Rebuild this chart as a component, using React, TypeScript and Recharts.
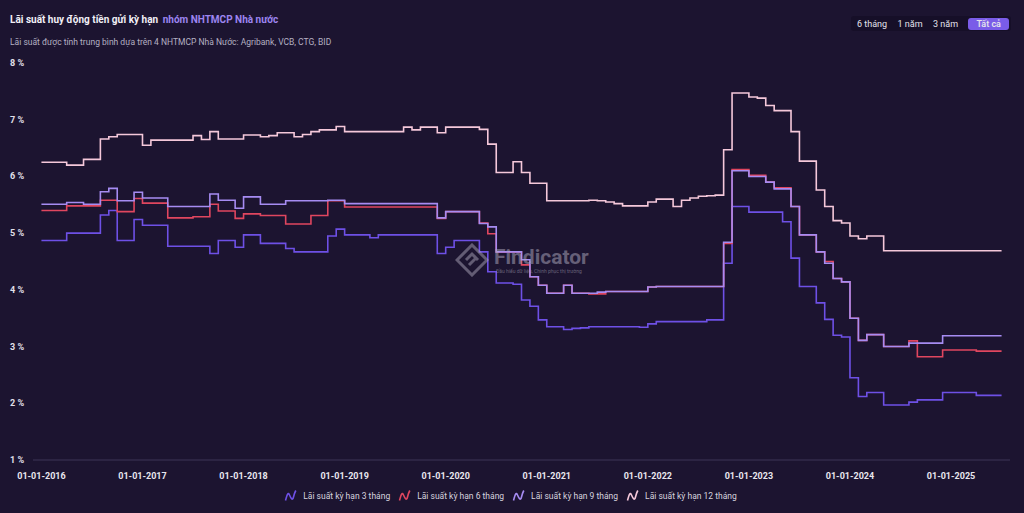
import React from 'react';
import { LineChart, Line, XAxis, YAxis } from 'recharts';

// monthly values, Jan 2016 .. Jul 2025 (index = months since 01-01-2016)
const rate3m = [
  4.87, 4.87, 4.87, 5.0, 5.0, 5.0, 5.0, 5.32, 5.4, 4.87, 4.87, 5.24,
  5.14, 5.14, 5.14, 4.77, 4.77, 4.77, 4.77, 4.77, 4.64, 4.87, 4.87, 4.75,
  4.97, 4.97, 4.82, 4.82, 4.82, 4.73, 4.67, 4.67, 4.67, 4.67, 4.95, 5.07,
  4.97, 4.97, 4.97, 4.92, 4.97, 4.97, 4.97, 4.97, 4.97, 4.97, 4.97, 4.64,
  4.75, 4.87, 4.87, 4.87, 4.67, 4.32, 4.12, 4.12, 4.1, 3.82, 3.71, 3.47,
  3.35, 3.35, 3.3, 3.32, 3.33, 3.35, 3.35, 3.35, 3.35, 3.35, 3.35, 3.34,
  3.4, 3.44, 3.44, 3.44, 3.44, 3.44, 3.44, 3.47, 3.47, 4.47, 5.47, 5.47,
  5.37, 5.37, 5.37, 5.37, 5.2, 4.56, 4.06, 4.06, 3.77, 3.48, 3.2, 3.17,
  2.45, 2.12, 2.19, 2.19, 1.97, 1.97, 1.97, 2.02, 2.06, 2.06, 2.06, 2.19,
  2.19, 2.19, 2.19, 2.14, 2.14, 2.14, 2.14,
];

const rate6m = [
  5.4, 5.4, 5.4, 5.48, 5.48, 5.48, 5.48, 5.58, 5.58, 5.38, 5.38, 5.61,
  5.53, 5.53, 5.53, 5.27, 5.27, 5.27, 5.29, 5.29, 5.51, 5.39, 5.39, 5.26,
  5.34, 5.34, 5.31, 5.31, 5.31, 5.16, 5.16, 5.16, 5.31, 5.31, 5.57, 5.57,
  5.46, 5.46, 5.46, 5.46, 5.46, 5.46, 5.46, 5.46, 5.46, 5.46, 5.46, 5.26,
  5.38, 5.38, 5.38, 5.38, 5.18, 4.99, 4.67, 4.67, 4.67, 4.44, 4.23, 4.08,
  3.94, 3.94, 4.08, 3.94, 3.94, 3.93, 3.93, 3.97, 3.97, 3.97, 3.97, 3.97,
  4.05, 4.06, 4.06, 4.06, 4.06, 4.06, 4.06, 4.06, 4.06, 4.82, 6.12, 6.12,
  6.02, 6.02, 5.9, 5.8, 5.8, 5.47, 4.97, 4.97, 4.67, 4.5, 4.2, 4.14,
  3.5, 3.11, 3.21, 3.21, 3.0, 3.0, 3.0, 3.1, 2.82, 2.82, 2.82, 2.94,
  2.94, 2.94, 2.94, 2.92, 2.92, 2.92, 2.92,
];

const rate9m = [
  5.51, 5.51, 5.51, 5.54, 5.54, 5.51, 5.51, 5.73, 5.79, 5.57, 5.57, 5.72,
  5.62, 5.62, 5.62, 5.47, 5.47, 5.47, 5.47, 5.47, 5.69, 5.58, 5.58, 5.44,
  5.64, 5.64, 5.51, 5.51, 5.51, 5.57, 5.57, 5.57, 5.57, 5.57, 5.58, 5.58,
  5.52, 5.52, 5.52, 5.52, 5.52, 5.52, 5.52, 5.52, 5.52, 5.52, 5.52, 5.27,
  5.38, 5.38, 5.38, 5.38, 5.17, 5.11, 4.67, 4.67, 4.67, 4.53, 4.23, 4.08,
  3.94, 3.94, 4.08, 3.94, 3.94, 3.94, 3.96, 3.97, 3.97, 3.97, 3.97, 3.97,
  4.05, 4.06, 4.06, 4.06, 4.06, 4.06, 4.06, 4.06, 4.06, 4.84, 6.1, 6.1,
  6.0, 6.0, 5.9, 5.78, 5.78, 5.47, 4.97, 4.97, 4.67, 4.47, 4.2, 4.14,
  3.5, 3.11, 3.21, 3.21, 3.0, 3.0, 3.0, 3.06, 3.06, 3.06, 3.06, 3.19,
  3.19, 3.19, 3.19, 3.19, 3.19, 3.19, 3.19,
];

const rate12m = [
  6.25, 6.25, 6.25, 6.2, 6.2, 6.3, 6.3, 6.66, 6.7, 6.74, 6.74, 6.74,
  6.55, 6.64, 6.64, 6.64, 6.64, 6.64, 6.72, 6.65, 6.79, 6.66, 6.66, 6.66,
  6.73, 6.73, 6.7, 6.72, 6.77, 6.77, 6.7, 6.74, 6.79, 6.82, 6.82, 6.88,
  6.79, 6.79, 6.79, 6.79, 6.79, 6.79, 6.79, 6.87, 6.82, 6.87, 6.87, 6.77,
  6.87, 6.87, 6.87, 6.87, 6.83, 6.57, 6.07, 6.07, 6.26, 6.07, 5.88, 5.88,
  5.57, 5.57, 5.57, 5.57, 5.57, 5.58, 5.57, 5.55, 5.52, 5.48, 5.48, 5.48,
  5.55, 5.6, 5.6, 5.47, 5.58, 5.62, 5.65, 5.66, 5.67, 6.47, 7.47, 7.47,
  7.4, 7.38, 7.25, 7.16, 7.16, 6.79, 6.27, 6.27, 5.76, 5.47, 5.22, 5.18,
  4.95, 4.9, 4.95, 4.95, 4.69, 4.69, 4.69, 4.69, 4.69, 4.69, 4.69, 4.69,
  4.69, 4.69, 4.69, 4.69, 4.69, 4.69, 4.69,
];

const yearTicks = [0, 12, 24, 36, 48, 60, 72, 84, 96, 108];
const yTicks = [1, 2, 3, 4, 5, 6, 7, 8];
const rangeButtons = ['6 tháng', '1 năm', '3 năm', 'Tất cả'];

const series = [
  { key: 'r3', name: 'Lãi suất kỳ hạn 3 tháng', color: '#6e50e6' },
  { key: 'r6', name: 'Lãi suất kỳ hạn 6 tháng', color: '#e0465f' },
  { key: 'r9', name: 'Lãi suất kỳ hạn 9 tháng', color: '#a68cf2' },
  { key: 'r12', name: 'Lãi suất kỳ hạn 12 tháng', color: '#f5c8da' },
];

const data = rate3m.map((v, i) => ({
  m: i,
  r3: v,
  r6: rate6m[i],
  r9: rate9m[i],
  r12: rate12m[i],
}));

const FONT = 'Roboto, "Noto Sans", sans-serif';
const BG = '#1c1430';

const YTick = ({ y, payload }: any) => (
  <text x={10} y={y} dy={3} fill="#e2e0ea" fontSize={9} fontWeight={700} fontFamily={FONT}>
    {payload.value} %
  </text>
);

const LegendIcon = ({ color }: { color: string }) => (
  <svg width={13} height={13} viewBox="0 0 13 13">
    <path d="M1.5 11.5 C3 6 4 2.5 5.5 6 S8.5 12 9.5 8 S11 3 11.8 1.5" fill="none" stroke={color} strokeWidth={1.6} />
  </svg>
);

const App = () => {
  return (
    <div style={{ position: 'absolute', left: 0, top: 0, width: 1024, height: 513, background: BG, fontFamily: FONT, overflow: 'hidden' }}>
      <LineChart width={1024} height={513} data={data} margin={{ top: 63, right: 14, bottom: 0, left: 0 }}>
        <XAxis
          dataKey="m"
          type="number"
          domain={[-1, 115]}
          ticks={yearTicks}
          interval={0}
          tickFormatter={(m: number) => `01-01-${2016 + m / 12}`}
          axisLine={{ stroke: '#3c3556' }}
          tickLine={false}
          tickMargin={7}
          height={53}
          tick={{ fill: '#e8e6ee', fontSize: 9, fontWeight: 700, fontFamily: FONT }}
        />
        <YAxis type="number" domain={[1, 8]} ticks={yTicks} width={33} axisLine={false} tickLine={false} tick={<YTick />} />
        {series.map((s) => (
          <Line
            key={s.key}
            type="stepAfter"
            dataKey={s.key}
            name={s.name}
            stroke={s.color}
            strokeWidth={1.6}
            dot={false}
            activeDot={false}
            isAnimationActive={false}
          />
        ))}
      </LineChart>

      {/* header */}
      <div style={{ position: 'absolute', left: 10, top: 14, fontSize: 10, fontWeight: 700, color: '#f2f0f7', whiteSpace: 'nowrap' }}>
        Lãi suất huy động tiền gửi kỳ hạn <span style={{ color: '#9d85f0', marginLeft: 2 }}>nhóm NHTMCP Nhà nước</span>
      </div>
      <div style={{ position: 'absolute', left: 10, top: 37, fontSize: 8.5, color: '#b4b0c2', whiteSpace: 'nowrap' }}>
        Lãi suất được tính trung bình dựa trên 4 NHTMCP Nhà Nước: Agribank, VCB, CTG, BID
      </div>

      {/* range buttons */}
      <div style={{ position: 'absolute', left: 851, top: 16, width: 160, height: 15, background: '#160f28', borderRadius: 3, display: 'flex', alignItems: 'center', justifyContent: 'space-between', padding: '0 2px 0 6px', boxSizing: 'border-box' }}>
        {rangeButtons.map((b, i) => {
          const active = i === rangeButtons.length - 1;
          return (
            <div
              key={b}
              style={{
                fontSize: 9,
                color: '#e4e2ec',
                padding: active ? '1px 8px' : '1px 0',
                background: active ? '#7a5ce8' : 'transparent',
                borderRadius: 3,
                fontWeight: active ? 600 : 400,
                lineHeight: '10px',
              }}
            >
              {b}
            </div>
          );
        })}
      </div>

      {/* watermark */}
      <div style={{ position: 'absolute', left: 455, top: 243, display: 'flex', alignItems: 'center', opacity: 0.5, pointerEvents: 'none' }}>
        <svg width={34} height={34} viewBox="0 0 34 34">
          <path d="M17 2 L32 17 L17 32 L2 17 Z" fill="none" stroke="#a9a4b8" strokeWidth={3} />
          <path d="M11 17 L17 11 L23 17 M14 22 L20 16" fill="none" stroke="#a9a4b8" strokeWidth={3} />
        </svg>
        <div style={{ marginLeft: 5 }}>
          <div style={{ fontSize: 21, fontWeight: 700, color: '#b0abbf', lineHeight: '22px' }}>Findicator</div>
          <div style={{ fontSize: 5, color: '#b0abbf', marginLeft: 2 }}>Đầu hiểu dữ liệu, Chinh phục thị trường</div>
        </div>
      </div>

      {/* legend */}
      <div style={{ position: 'absolute', left: 0, top: 489, width: 1021, display: 'flex', justifyContent: 'center', gap: 8 }}>
        {series.map((s) => (
          <div key={s.key} style={{ display: 'flex', alignItems: 'center' }}>
            <LegendIcon color={s.color} />
            <span style={{ fontSize: 8.5, color: '#d6d3df', marginLeft: 6, whiteSpace: 'nowrap' }}>{s.name}</span>
          </div>
        ))}
      </div>
    </div>
  );
};

export default App;
